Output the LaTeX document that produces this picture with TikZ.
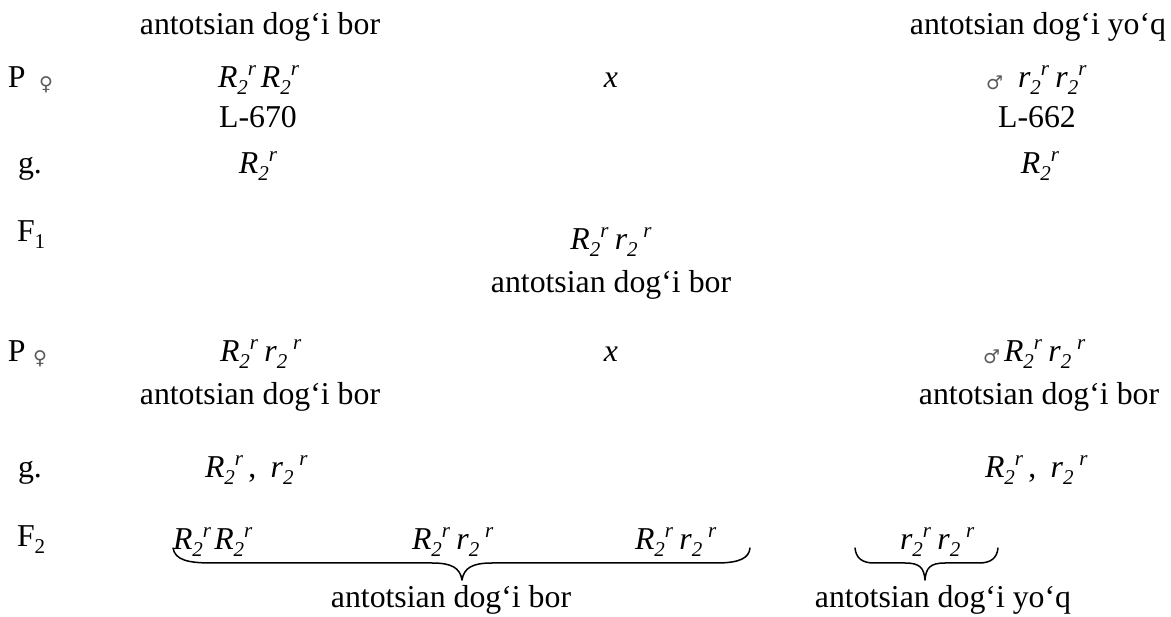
\documentclass[tikz,border=0pt]{standalone}
\usepackage{fontspec}
\setmainfont{Liberation Serif}
\newfontfamily\symfont{DejaVu Sans}
\newcommand\subs[1]{\raisebox{-0.2em}{\fontsize{21}{21}\selectfont #1}}
\newcommand\sups[1]{\raisebox{0.38em}{\fontsize{21}{21}\selectfont #1}}
\newcommand\Rr{\textit{R\subs{2}\sups{r}}}
\newcommand\rrs{\textit{r\subs{2}\hspace{0.18em}\sups{r}}}
\newcommand\rrt{\textit{r\subs{2}\sups{r}}}
\begin{document}
\begin{tikzpicture}[x=1pt,y=-1pt,
  every node/.style={inner sep=0pt, outer sep=0pt, font=\fontsize{31.8}{38}\selectfont},
  ctr/.style={anchor=base},
  lft/.style={anchor=base west},
  sex/.style={anchor=base west, font=\fontsize{19}{19}\selectfont\symfont, text=black!65},
  brace/.style={line width=1.5pt, line join=round, line cap=round}]
\useasboundingbox (0,0) rectangle (1171,617);
% row 1
\node[ctr] (t1) at (260,35) {antotsian dog‘i bor};
\node[ctr] (t2) at (1038,35) {antotsian dog‘i yo‘q};
% row 2
\node[lft] (P1) at (8,88) {P};
\node[sex] (f1) at (39,91) {♀};
\node[lft] (g1) at (218,88) {\Rr\hspace{0.15em}\Rr};
\node[ctr] (x1) at (611,88) {\textit{x}};
\node[sex] (m1) at (986,90) {♂};
\node[lft] (g2) at (1018,88) {\rrt\hspace{0.2em}\rrt};
% row 3
\node[ctr] (L1) at (258,128) {L-670};
\node[ctr] (L2) at (1037,128) {L-662};
% row 4
\node[lft] (gm1) at (18,174) {g.};
\node[ctr] (a1) at (258,174) {\Rr};
\node[ctr] (a2) at (1040,174) {\Rr};
% row 5
\node[lft] (F1) at (17,242) {F\subs{1}};
\node[ctr] (h1) at (611,250) {\Rr\hspace{0.2em}\rrs};
% row 6
\node[ctr] (t3) at (611,293) {antotsian dog‘i bor};
% row 7
\node[lft] (P2) at (8,362) {P};
\node[sex] (f2) at (33,365) {♀};
\node[lft] (g3) at (220,362) {\Rr\hspace{0.2em}\rrs};
\node[ctr] (x2) at (611,362) {\textit{x}};
\node[sex] (m2) at (983,364) {♂};
\node[lft] (g4) at (1004,362) {\Rr\hspace{0.2em}\rrs};
% row 8
\node[ctr] (t4) at (260,405) {antotsian dog‘i bor};
\node[ctr] (t5) at (1039,405) {antotsian dog‘i bor};
% row 9
\node[lft] (gm2) at (18,478) {g.};
\node[lft] (b1) at (205,478) {\Rr\,,\hspace{0.45em}\rrs};
\node[lft] (b2) at (985,478) {\Rr\,,\hspace{0.45em}\rrs};
% row 10
\node[lft] (F2) at (17,547) {F\subs{2}};
\node[lft] (c1) at (173,550) {\Rr\hspace{0.1em}\Rr};
\node[lft] (c2) at (412,550) {\Rr\hspace{0.2em}\rrs};
\node[lft] (c3) at (635,550) {\Rr\hspace{0.2em}\rrs};
\node[lft] (c4) at (900,550) {\rrt\hspace{0.2em}\rrs};
% braces
\coordinate (B1a) at (173,548);
\coordinate (B1t) at (462,580);
\coordinate (B1b) at (750,548);
\draw[brace] (B1a) .. controls (175,560) and (188,563) .. (212,563) -- (432,563)
  .. controls (452,563) and (460,568) .. (B1t)
  .. controls (464,568) and (472,563) .. (492,563) -- (716,563)
  .. controls (740,563) and (749,558) .. (B1b);
\coordinate (B2a) at (855,548);
\coordinate (B2t) at (925,580);
\coordinate (B2b) at (998,548);
\draw[brace] (B2a) .. controls (856,558) and (862,563) .. (874,563) -- (905,563)
  .. controls (920,563) and (924,568) .. (B2t)
  .. controls (926,568) and (930,563) .. (945,563) -- (979,563)
  .. controls (991,563) and (997,558) .. (B2b);
% row 11
\node[ctr] (t6) at (451,607) {antotsian dog‘i bor};
\node[ctr] (t7) at (943,607) {antotsian dog‘i yo‘q};
\end{tikzpicture}
\end{document}
